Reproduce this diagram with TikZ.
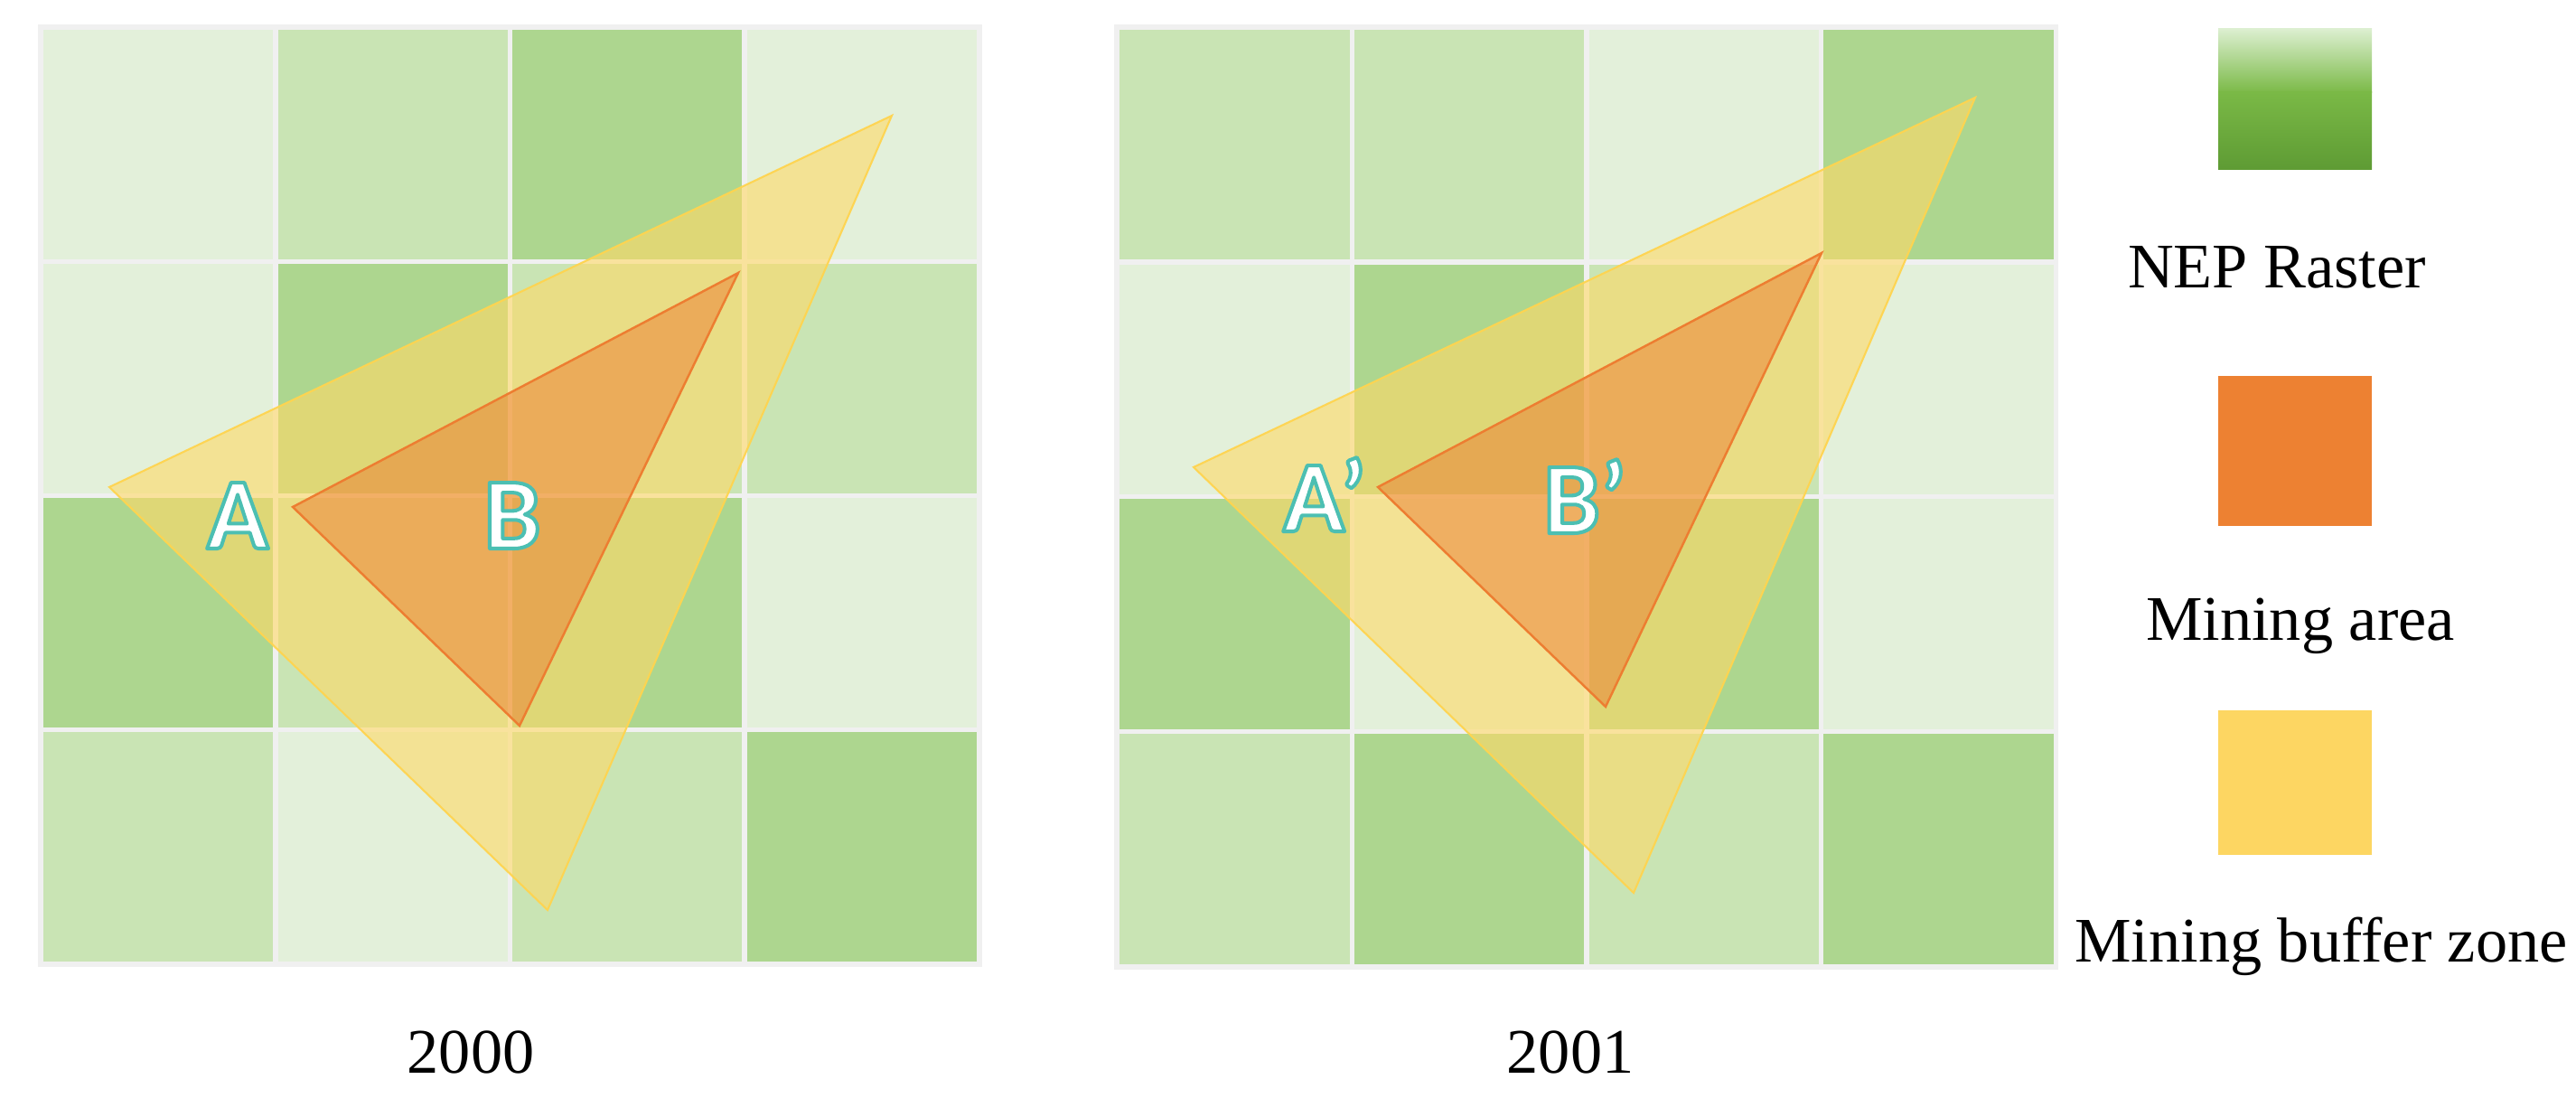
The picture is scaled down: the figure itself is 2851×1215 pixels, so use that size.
\documentclass[tikz,border=0pt]{standalone}
\usepackage{fontspec}
\setmainfont{Liberation Serif}
\newfontfamily\lblfont{Carlito}
\definecolor{cL}{HTML}{E3F0DA}
\definecolor{cM}{HTML}{C9E4B4}
\definecolor{cD}{HTML}{ADD68F}
\definecolor{gridgap}{HTML}{F0F0F0}
\definecolor{buf}{HTML}{FFD966}
\definecolor{bufline}{HTML}{FFD44F}
\definecolor{mine}{HTML}{ED7D31}
\definecolor{gA}{HTML}{DCEFD0}
\definecolor{gB}{HTML}{7AB946}
\definecolor{gC}{HTML}{5E9B34}
\definecolor{legor}{HTML}{ED8132}
\definecolor{legye}{HTML}{FDD662}
% white letters with a teal outline: one copy, filled white and stroked teal
\newcommand\outlined[1]{{\color{white}%
  \special{pdf:literal direct q 0.30 0.75 0.70 RG 1.15 w 1 j 2 Tr}#1\special{pdf:literal direct Q}}}
\tikzset{
  buffer/.style={fill=buf, fill opacity=0.6, draw=bufline, draw opacity=0.95, line width=0.6pt},
  minearea/.style={fill=mine, fill opacity=0.5, draw=mine, line width=0.7pt},
  legtext/.style={font=\fontsize{20pt}{24pt}\selectfont, anchor=base, inner sep=0pt},
  ptlabel/.style={font=\lblfont\bfseries\fontsize{32pt}{36pt}\selectfont, anchor=base, inner sep=0pt},
}
\begin{document}
\begin{tikzpicture}[x=0.1mm, y=-0.1mm]
\useasboundingbox (0,0) rectangle (2851,1215);
% ---------- left raster (2000)
\fill[gridgap] (42,27) rectangle (1087,1070);
\foreach \c [count=\i from 0] in {L,M,D,L, L,D,M,M, D,M,D,L, M,L,M,D} {
  \pgfmathtruncatemacro\cx{mod(\i,4)}
  \pgfmathtruncatemacro\cy{div(\i,4)}
  \fill[fill=c\c] ({48+\cx*259.5},{33+\cy*259}) rectangle ++(254,254);
}
% ---------- right raster (2001)
\fill[gridgap] (1233,27) rectangle (2278,1073);
\foreach \c [count=\i from 0] in {M,M,L,D, L,D,M,L, D,L,D,L, M,D,M,D} {
  \pgfmathtruncatemacro\cx{mod(\i,4)}
  \pgfmathtruncatemacro\cy{div(\i,4)}
  \fill[fill=c\c] ({1239+\cx*259.75},{33+\cy*259.75}) rectangle ++(254.5,254.5);
}
% ---------- triangles 2000
\coordinate (bl1) at (121,539);
\coordinate (bt1) at (987,128);
\coordinate (bb1) at (606,1007);
\coordinate (ml1) at (324,561);
\coordinate (mt1) at (817,302);
\coordinate (mb1) at (575,803);
\path[buffer] (bl1) -- (bt1) -- (bb1) -- cycle;
\path[minearea] (ml1) -- (mt1) -- (mb1) -- cycle;
% ---------- triangles 2001
\coordinate (bl2) at (1321,517);
\coordinate (bt2) at (2186,108);
\coordinate (bb2) at (1808,988);
\coordinate (ml2) at (1525,539);
\coordinate (mt2) at (2016,280);
\coordinate (mb2) at (1777,782);
\path[buffer] (bl2) -- (bt2) -- (bb2) -- cycle;
\path[minearea] (ml2) -- (mt2) -- (mb2) -- cycle;
% ---------- point labels
\node[ptlabel] (lA) at (263,607) {\outlined{A}};
\node[ptlabel] (lB) at (567,607) {\outlined{B}};
\node[ptlabel] (lA2) at (1466,588) {\outlined{A’}};
\node[ptlabel] (lB2) at (1754,590) {\outlined{B’}};
% ---------- year captions
\node[legtext] (y2000) at (521,1188) {2000};
\node[legtext] (y2001) at (1738,1188) {2001};
% ---------- legend
\shade[top color=gA, bottom color=gB] (2455,32) rectangle (2625,103);
\shade[top color=gB, bottom color=gC] (2455,102) rectangle (2625,188);
\node[legtext] (tNEP) at (2520,319) {NEP Raster};
\fill[legor] (2455,416) rectangle (2625,582);
\node[legtext] (tMine) at (2546,709) {Mining area};
\fill[legye] (2455,786) rectangle (2625,946);
\node[legtext] (tBuf) at (2569,1065) {Mining buffer zone};
\end{tikzpicture}
\end{document}
